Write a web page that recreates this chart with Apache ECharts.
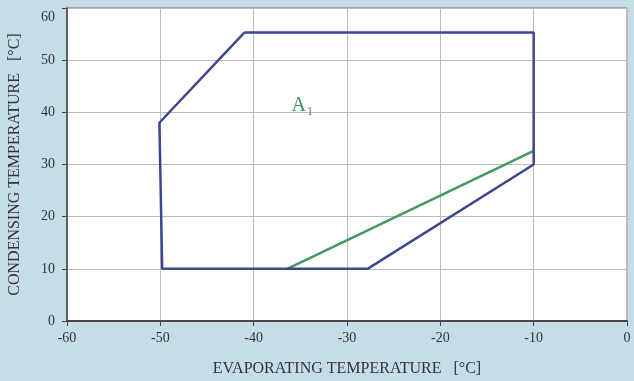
<!DOCTYPE html>
<html>
<head>
<meta charset="utf-8">
<script src="https://cdn.jsdelivr.net/npm/echarts@6/dist/echarts.min.js"></script>
<style>
  html, body { margin: 0; padding: 0; background: #c5dde9; }
  #chart { width: 634px; height: 381px; }
</style>
</head>
<body>
<div id="chart"></div>
<script>
// envelope outline (evaporating, condensing)
const envelopeX = [-41, -10, -10, -27.8, -49.8, -50.1, -41];
const envelopeY = [55.3, 55.3, 30, 10, 10, 38, 55.3];
// A1 limit line
const limitX = [-36.4, -10];
const limitY = [10, 32.6];
const labelPos = [-34.8, 41.3];
const xTicks = [-60, -50, -40, -30, -20, -10, 0];
const yTicks = [0, 10, 20, 30, 40, 50, 60];

const pairs = (xs, ys) => xs.map((x, i) => [x, ys[i]]);

const chart = echarts.init(document.getElementById('chart'));
const font = 'Liberation Serif';
const yMax = yTicks[yTicks.length - 1];

chart.setOption({
    animation: false,
    backgroundColor: '#c5dde9',
    textStyle: { fontFamily: font },
    grid: {
        left: 67, right: 7, top: 8, bottom: 60,
        outerBoundsMode: 'none',
        show: true, backgroundColor: '#fff', borderColor: '#777', borderWidth: 1
    },
    xAxis: {
        type: 'value',
        min: xTicks[0],
        max: xTicks[xTicks.length - 1],
        interval: 10,
        name: 'EVAPORATING TEMPERATURE   [°C]',
        nameLocation: 'middle',
        nameGap: 40,
        nameTextStyle: { color: '#333', fontSize: 16, fontFamily: font },
        axisLine: { onZero: false, lineStyle: { color: '#222', width: 1.5 } },
        axisTick: { show: true, length: 5, lineStyle: { color: '#444' } },
        axisLabel: { color: '#333', fontSize: 14, fontFamily: font, margin: 10 },
        splitLine: { show: true, lineStyle: { color: '#bbbbbb', width: 1 } }
    },
    yAxis: {
        type: 'value',
        min: yTicks[0],
        max: yMax,
        interval: 10,
        name: 'CONDENSING TEMPERATURE   [°C]',
        nameLocation: 'middle',
        nameGap: 44,
        nameTextStyle: { color: '#333', fontSize: 16, fontFamily: font },
        axisLine: { onZero: false, lineStyle: { color: '#444', width: 1.5 } },
        axisTick: { show: true, length: 5, lineStyle: { color: '#444' } },
        axisLabel: {
            color: '#333', fontSize: 14, fontFamily: font, margin: 12,
            // top label sits a bit lower in the original
            formatter: v => v === yMax ? '{t|' + v + '}' : String(v),
            rich: { t: { fontSize: 14, fontFamily: font, color: '#333', padding: [18, 0, 0, 0] } }
        },
        splitLine: { show: true, lineStyle: { color: '#bbbbbb', width: 1 } }
    },
    series: [
        {
            type: 'line',
            data: pairs(envelopeX, envelopeY),
            symbol: 'none',
            lineStyle: { color: '#3d4690', width: 2.5 },
            z: 3
        },
        {
            type: 'line',
            data: pairs(limitX, limitY),
            symbol: 'none',
            lineStyle: { color: '#3f9a63', width: 2.5 },
            z: 2
        },
        {
            type: 'scatter',
            data: [labelPos],
            symbolSize: 1,
            itemStyle: { color: 'rgba(0,0,0,0)', opacity: 1 },
            label: {
                show: true,
                position: 'inside',
                formatter: 'A{s|1}',
                color: '#3a9660',
                opacity: 1,
                fontSize: 20,
                fontFamily: font,
                rich: { s: { fontSize: 12, color: '#3a9660', fontFamily: font, padding: [12, 0, 0, 1] } }
            }
        }
    ]
});
</script>
</body>
</html>
